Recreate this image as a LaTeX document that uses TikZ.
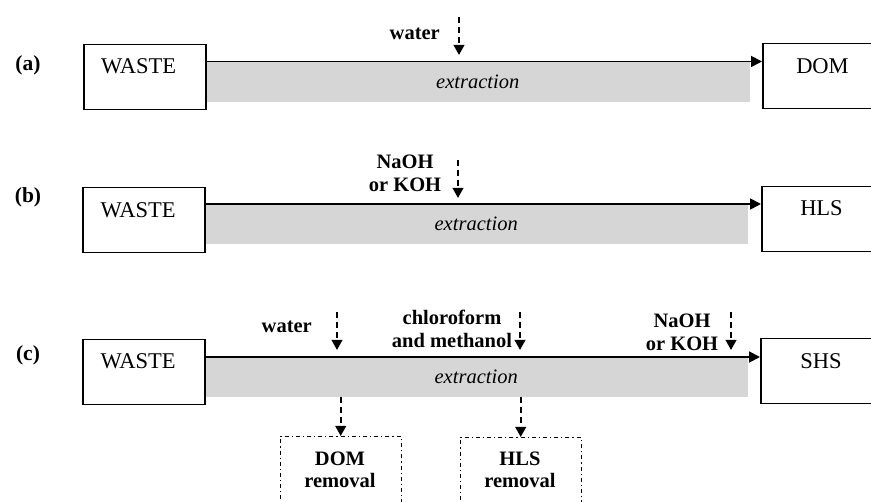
\documentclass[tikz,border=0pt]{standalone}
\usepackage{fontspec}
\setmainfont{Liberation Serif}
\usetikzlibrary{arrows.meta}
\begin{document}
\begin{tikzpicture}[x=1pt,y=-1pt,
  box/.style={draw,line width=1.5pt,minimum width=122pt,minimum height=65pt,anchor=north west,inner sep=0pt},
  rmtxt/.style={font=\fontsize{22.5}{24}\selectfont,inner sep=0pt,anchor=base},
  lbl/.style={font=\fontsize{21.5}{24}\selectfont\bfseries,inner sep=0pt},
  bftxt/.style={font=\fontsize{20.5}{23}\selectfont\bfseries,inner sep=0pt,align=center},
  band/.style={fill=black!16,draw=none,inner sep=0pt,anchor=north west,minimum height=40pt,font=\fontsize{20.5}{23}\selectfont\itshape},
  flow/.style={line width=1.8pt,-{Triangle[length=11pt,width=11pt]}},
  feed/.style={line width=2pt,dash pattern=on 6pt off 4pt,-{Triangle[length=10pt,width=10.5pt]}},
  rembox/.style={draw,line width=1.4pt,dash pattern=on 4pt off 3pt on 1.2pt off 3pt,minimum width=121pt,minimum height=80pt,anchor=north west,inner sep=0pt}
]
\path[use as bounding box] (0,0) rectangle (871,502);
\clip (0,0) rectangle (871,502);

% ---------- bands (drawn first, under the boxes)
\node[band,minimum width=545pt] (ba) at (205,61.5) {extraction};
\node[band,minimum width=544pt] (bb) at (204,204) {extraction};
\node[band,minimum width=544pt] (bc) at (204,357) {extraction};

% ---------- row (a)
\node[lbl] (la) at (28,65.5) {(a)};
\node[box] (wa) at (83,44) {};
\node[rmtxt] (wat) at (138.5,74) {WASTE};
\node[box] (dom) at (762,43) {};
\node[rmtxt] (domt) at (822.5,74) {DOM};
\draw[flow] (ba.north west) -- (ba.north west -| dom.west);
\node[bftxt,anchor=base east] (wta) at (440,40) {water};
\coordinate (fas) at (459,17);
\coordinate (fae) at (459,55);
\draw[feed] (fas) -- (fae);

% ---------- row (b)
\node[lbl] (lb) at (28,197.5) {(b)};
\node[box] (wb) at (82,187) {};
\node[rmtxt] (wbt) at (138,217.5) {WASTE};
\node[box] (hls) at (761,186) {};
\node[rmtxt] (hlst) at (821.5,216) {HLS};
\draw[flow] (bb.north west) -- (bb.north west -| hls.west);
\node[bftxt,anchor=north] (nb) at (405,155) {NaOH\\or KOH};
\coordinate (fbs) at (458,160);
\coordinate (fbe) at (458,198);
\draw[feed] (fbs) -- (fbe);

% ---------- row (c)
\node[lbl] (lc) at (28,355.5) {(c)};
\node[box] (wc) at (82,339) {};
\node[rmtxt] (wct) at (138,369) {WASTE};
\node[box] (shs) at (760,338) {};
\node[rmtxt] (shst) at (821,368.5) {SHS};
\draw[flow] (bc.north west) -- (bc.north west -| shs.west);

\node[bftxt,anchor=base east] (wtc) at (312,333) {water};
\coordinate (fc1s) at (337,312);
\coordinate (fc1e) at (337,350);
\draw[feed] (fc1s) -- (fc1e);

\node[bftxt,anchor=north] (chm) at (452,309.5) {chloroform\\and methanol};
\coordinate (fc2s) at (520,312);
\coordinate (fc2e) at (520,350);
\draw[feed] (fc2s) -- (fc2e);

\node[bftxt,anchor=north] (nc) at (682,314) {NaOH\\or KOH};
\coordinate (fc3s) at (731,312);
\coordinate (fc3e) at (731,350);
\draw[feed] (fc3s) -- (fc3e);

\node[rembox] (drem) at (279.5,436) {};
\node[bftxt,anchor=north,font=\fontsize{20.5}{22}\selectfont\bfseries] (dremt) at (340,452) {DOM\\removal};
\node[rembox] (hrem) at (459.5,437) {};
\node[bftxt,anchor=north,font=\fontsize{20.5}{22}\selectfont\bfseries] (hremt) at (520,452) {HLS\\removal};
\draw[feed] (bc.south -| drem.north) -- (drem.north);
\draw[feed] (bc.south -| hrem.north) -- (hrem.north);
\end{tikzpicture}
\end{document}
